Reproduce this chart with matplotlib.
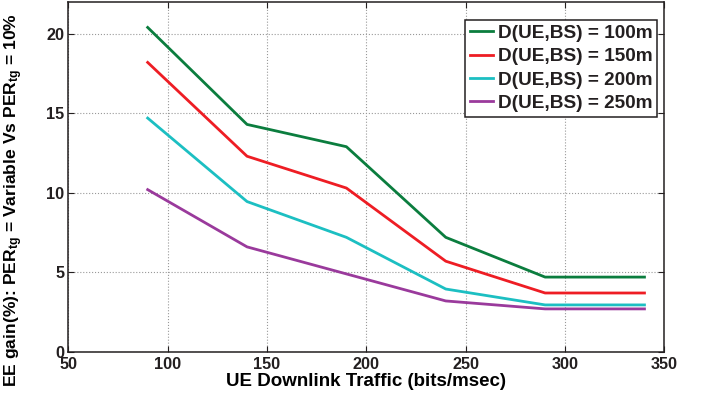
import numpy as np
import matplotlib
matplotlib.use('Agg')
import matplotlib.pyplot as plt
from matplotlib import rcParams

rcParams['font.family'] = 'Liberation Sans'
rcParams['font.weight'] = 'bold'
rcParams['text.color'] = '#231f20'
rcParams['xtick.color'] = '#231f20'
rcParams['ytick.color'] = '#231f20'
rcParams['xtick.direction'] = 'in'
rcParams['ytick.direction'] = 'in'
rcParams['mathtext.fontset'] = 'custom'
rcParams['mathtext.rm'] = 'Liberation Sans:bold'
rcParams['mathtext.it'] = 'Liberation Sans:bold'
rcParams['mathtext.default'] = 'rm'

# data
traffic = [90, 140, 190, 240, 290, 340]
gain_100 = [20.4, 14.3, 12.9, 7.2, 4.7, 4.7]
gain_150 = [18.2, 12.3, 10.3, 5.7, 3.7, 3.7]
gain_200 = [14.7, 9.45, 7.2, 3.95, 2.95, 2.95]
gain_250 = [10.2, 6.6, 4.9, 3.2, 2.7, 2.7]
labels = ['D(UE,BS) = 100m', 'D(UE,BS) = 150m',
          'D(UE,BS) = 200m', 'D(UE,BS) = 250m']
colors = ['#0b7d3e', '#ee1d24', '#1cbfc2', '#9a3a9c']

fig = plt.figure(figsize=(7.03, 3.98), dpi=100)
ax = fig.add_axes([0.097, 0.116, 0.848, 0.879])

for y, lab, c in zip([gain_100, gain_150, gain_200, gain_250], labels, colors):
    ax.plot(traffic, y, color=c, lw=2.0, label=lab)

ax.set_xlim(50, 350)
ax.set_ylim(0, 22)
ax.set_xticks(np.arange(50, 351, 50))
ax.set_yticks([0, 5, 10, 15, 20])
ax.grid(True, linestyle=':', color='#999999', lw=0.8)
ax.tick_params(top=True, right=True, labelsize=11.7, length=4, width=0.8)
ax.tick_params(axis='x', pad=4)
ax.tick_params(axis='y', pad=3)
for s in ax.spines.values():
    s.set_linewidth(1.1)
    s.set_color('#231f20')

ax.set_xlabel('UE Downlink Traffic (bits/msec)', fontsize=13.5, fontweight='bold')
ax.xaxis.set_label_coords(0.5, -0.06)
ax.set_ylabel(r'EE gain(%): PER$_{tg}$ = Variable Vs PER$_{tg}$ = 10%',
              fontsize=12.6, fontweight='bold')
ax.yaxis.set_label_coords(-0.072, 0.435)

leg = ax.legend(loc='upper right', bbox_to_anchor=(0.988, 0.949), borderaxespad=0,
                fontsize=13.7, frameon=True, fancybox=False,
                handlelength=1.2, handletextpad=0.25, borderpad=0.25,
                labelspacing=0.32)
leg.get_frame().set_edgecolor('#231f20')
leg.get_frame().set_linewidth(1.1)
leg.get_frame().set_alpha(1)

fig.savefig('out.png', dpi=100)
